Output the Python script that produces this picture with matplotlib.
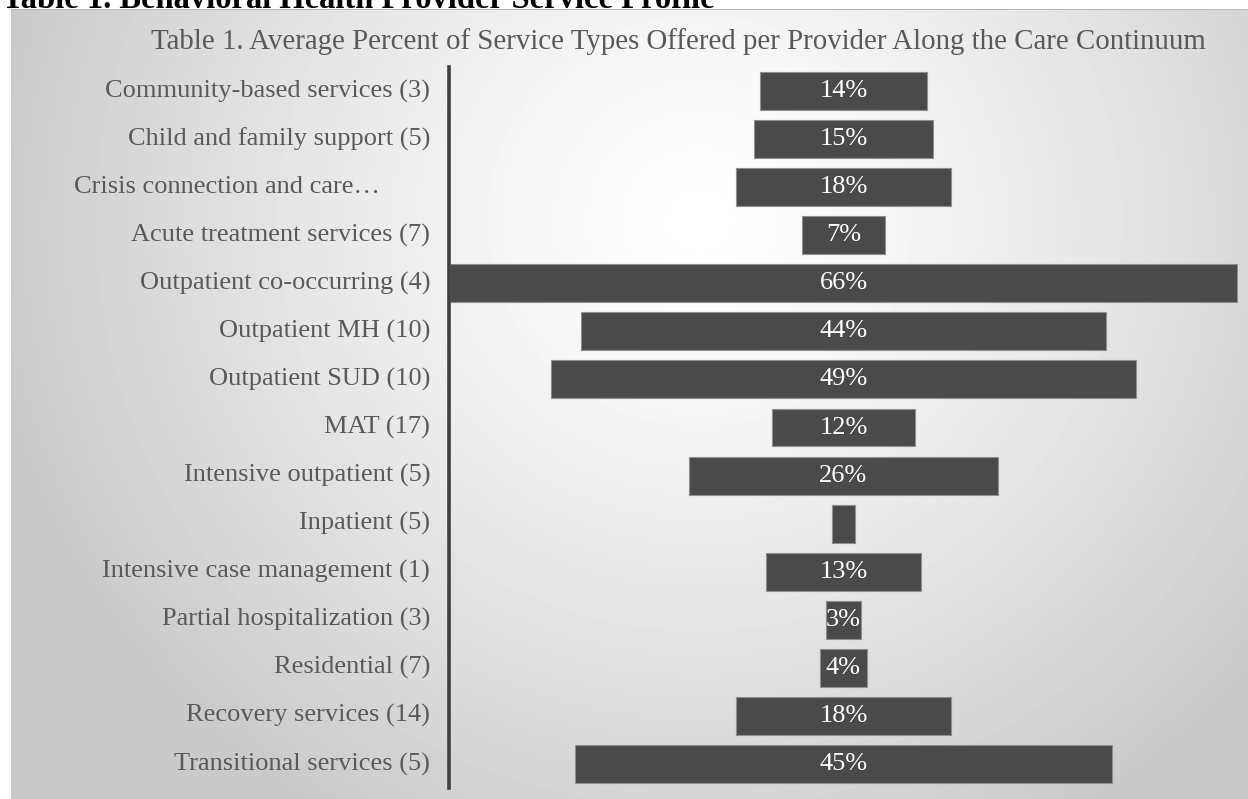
import numpy as np
import matplotlib
matplotlib.use("Agg")
import matplotlib.pyplot as plt

categories = [
    "Community-based services (3)",
    "Child and family support (5)",
    "Crisis connection and care…",
    "Acute treatment services (7)",
    "Outpatient co-occurring (4)",
    "Outpatient MH (10)",
    "Outpatient SUD (10)",
    "MAT (17)",
    "Intensive outpatient (5)",
    "Inpatient (5)",
    "Intensive case management (1)",
    "Partial hospitalization (3)",
    "Residential (7)",
    "Recovery services (14)",
    "Transitional services (5)",
]
values = [14, 15, 18, 7, 66, 44, 49, 12, 26, 2, 13, 3, 4, 18, 45]
value_labels = ["14%", "15%", "18%", "7%", "66%", "44%", "49%", "12%", "26%", "",
                "13%", "3%", "4%", "18%", "45%"]

W, H = 1248, 799
fig = plt.figure(figsize=(W / 100, H / 100), dpi=100)
fig.patch.set_facecolor("white")

# background panel with radial gradient
px0, py0 = 11, 9
bg = fig.add_axes([px0 / W, 0, 1 - px0 / W, 1 - py0 / H])
bg.set_axis_off()
xx, yy = np.meshgrid(np.linspace(px0, W, 300), np.linspace(py0, H, 200))
r = np.sqrt(((xx - 700) / 720) ** 2 + ((yy - 220) / 700) ** 2)
v = 1.0 - 0.21 * np.clip(r, 0, 1) ** 1.3
bg.imshow(v, cmap="gray", vmin=0, vmax=1, aspect="auto",
          extent=[0, 1, 0, 1], interpolation="bilinear")
bg.set_xlim(0, 1); bg.set_ylim(0, 1)
bg.plot([0, 1], [1, 1], color="#b8b8b8", lw=1.5, transform=bg.transAxes)

# main axes
ax_l, ax_r = 449, 1238
ax_t, ax_b = 67, 788
ax = fig.add_axes([ax_l / W, 1 - ax_b / H, (ax_r - ax_l) / W, (ax_b - ax_t) / H])
ax.patch.set_alpha(0)
n = len(categories)
y = np.arange(n)
vals = np.array(values, dtype=float)
ax.barh(y, vals, left=-vals / 2, height=0.79, color="#4a4a4a",
        edgecolor="#8f8f8f", linewidth=0.8)
ax.set_xlim(-33.1, 33.1)
ax.set_ylim(n - 0.5, -0.5)
for s in ["top", "right", "bottom"]:
    ax.spines[s].set_visible(False)
ax.spines["left"].set_color("#404040")
ax.spines["left"].set_linewidth(2.6)
ax.set_xticks([])
ax.set_yticks([])

serif = ["Liberation Serif", "DejaVu Serif"]
for i, (cat, lab) in enumerate(zip(categories, value_labels)):
    off = -69 if cat.endswith("…") else -19
    ax.annotate(cat, xy=(0, i), xycoords=("axes fraction", "data"),
                xytext=(off, 0), textcoords="offset pixels",
                ha="right", va="center", fontsize=19, color="#595959",
                family=serif)
    if lab:
        ax.text(0, i, lab, ha="center", va="center", fontsize=19,
                color="white", family=serif)

fig.text(678 / W, 1 - 42 / H, "Table 1. Average Percent of Service Types Offered per Provider Along the Care Continuum",
         ha="center", va="center", fontsize=20.8, color="#595959", family=serif)

fig.text(0.002, 1 - 8 / H, "Table 1. Behavioral Health Provider Service Profile",
         ha="left", va="baseline", fontsize=23.5, color="black",
         family=serif, fontweight="bold")

fig.savefig("out.png", dpi=100)
